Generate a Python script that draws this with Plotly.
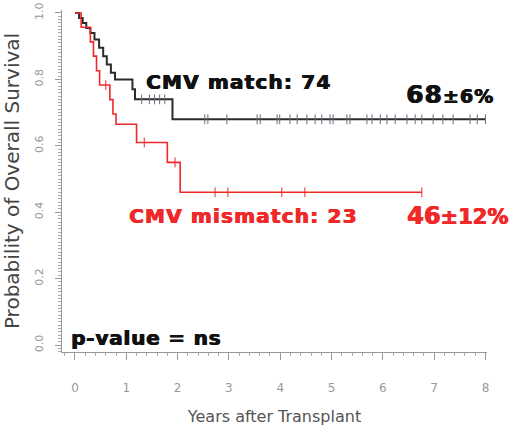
import numpy as np
import plotly.graph_objects as go

# Kaplan-Meier step data (years, survival probability)
match_t = [0, 0.08, 0.15, 0.22, 0.30, 0.38, 0.47, 0.55, 0.62, 0.70, 0.78, 1.12, 1.17, 1.90, 8.0]
match_s = [1.0, 0.985, 0.97, 0.955, 0.94, 0.92, 0.895, 0.87, 0.845, 0.82, 0.80, 0.77, 0.74, 0.68, 0.68]
mismatch_t = [0, 0.12, 0.30, 0.36, 0.42, 0.48, 0.68, 0.74, 0.80, 1.20, 1.80, 2.05, 6.76]
mismatch_s = [1.0, 0.957, 0.913, 0.87, 0.826, 0.783, 0.739, 0.696, 0.665, 0.61, 0.55, 0.46, 0.46]

# censoring times
match_cens = [1.30, 1.45, 1.55, 1.65, 1.75, 2.53, 2.59, 2.96, 3.55, 3.61, 3.94, 3.99, 4.19, 4.33,
              4.52, 4.68, 4.81, 4.97, 5.03, 5.30, 5.36, 5.69, 5.79, 5.95, 6.08, 6.24, 6.47, 6.63,
              6.76, 6.98, 7.17, 7.37, 7.70, 7.84, 8.0]
mismatch_cens = [0.60, 1.35, 1.95, 2.73, 2.98, 4.03, 4.48, 6.76]

x_ticks = [0, 1, 2, 3, 4, 5, 6, 7, 8]
y_ticks = [0.0, 0.2, 0.4, 0.6, 0.8, 1.0]
y_tick_text = ["0.0", "0.2", "0.4", "0.6", "0.8", "1.0"]


def step_at(times, surv, q):
    idx = np.searchsorted(np.array(times), np.array(q), side="right") - 1
    return [surv[i] for i in idx]


BLACK = "#2b2b2b"
RED = "#f02828"

fig = go.Figure()
fig.add_trace(go.Scatter(x=match_t, y=match_s, mode="lines", line=dict(shape="hv", color=BLACK, width=2),
                         showlegend=False, hoverinfo="skip"))
fig.add_trace(go.Scatter(x=mismatch_t, y=mismatch_s, mode="lines", line=dict(shape="hv", color=RED, width=1.6),
                         showlegend=False, hoverinfo="skip"))
fig.add_trace(go.Scatter(x=match_cens, y=step_at(match_t, match_s, match_cens), mode="markers",
                         marker=dict(symbol="line-ns", size=7, line=dict(color="#6a6a80", width=1)),
                         showlegend=False, hoverinfo="skip"))
fig.add_trace(go.Scatter(x=mismatch_cens, y=step_at(mismatch_t, mismatch_s, mismatch_cens), mode="markers",
                         marker=dict(symbol="line-ns", size=7, line=dict(color=RED, width=1)),
                         showlegend=False, hoverinfo="skip"))

BOLD = "DejaVu Sans"


def ann(text, x, y, color, size, spacing):
    fig.add_annotation(x=x, y=y, xref="x", yref="y", xanchor="left", yanchor="middle", showarrow=False,
                       borderpad=0,
                       text=f'<span style="letter-spacing:{spacing}px">{text}</span>',
                       font=dict(family=BOLD, size=size, color=color, weight="bold",
                                 shadow=f"0.7px 0 0 {color}, -0.3px 0 0 {color}"))


ann("CMV match: 74", 1.36, 0.792, "#111111", 20, 1.2)
ann('68<span style="font-size:19px">±6%</span>', 6.43, 0.756, "#111111", 25, 1)
ann("CMV mismatch: 23", 1.03, 0.389, RED, 20, 1.2)
ann('46<span style="font-size:21px">±12%</span>', 6.45, 0.389, RED, 24, 0)
ann("p-value = ns", -0.10, 0.021, "#111111", 20, 0.8)

fig.update_layout(
    width=520, height=432,
    margin=dict(l=62, r=33, t=10, b=80),
    paper_bgcolor="white", plot_bgcolor="white",
    xaxis=dict(range=[-0.253, 8.03], tickvals=x_ticks, ticktext=[str(v) for v in x_ticks],
               automargin=False,
               showgrid=False, zeroline=False, showline=True, linecolor="#999999", linewidth=1,
               ticks="outside", ticklen=7, tickcolor="#999999", ticklabelstandoff=18,
               minor=dict(dtick=0.2, ticks="outside", ticklen=3, tickcolor="#aaaaaa"),
               tickfont=dict(family="DejaVu Sans", size=12, color="#999999"),
               title=dict(text="Years after Transplant", standoff=16,
                          font=dict(family="DejaVu Sans", size=16, color="#555555"))),
    yaxis=dict(range=[-0.021, 1.009], tickvals=y_ticks, ticktext=y_tick_text, tickangle=-90,
               automargin=False,
               showgrid=False, zeroline=False, showline=True, linecolor="#999999", linewidth=1,
               ticks="outside", ticklen=6, tickcolor="#999999", ticklabelstandoff=8,
               minor=dict(dtick=0.01, ticks="outside", ticklen=3, tickcolor="#aaaaaa"),
               tickfont=dict(family="DejaVu Sans", size=11, color="#999999"),
               title=dict(text="Probability of Overall Survival", standoff=10,
                          font=dict(family="DejaVu Sans", size=20, color="#444444"))),
)

# remove the browser's default 8px body margin so the 520x432 figure fills the window
fig.write_html("out.html", config={"displayModeBar": False},
               post_script="document.body.style.margin='0';")
